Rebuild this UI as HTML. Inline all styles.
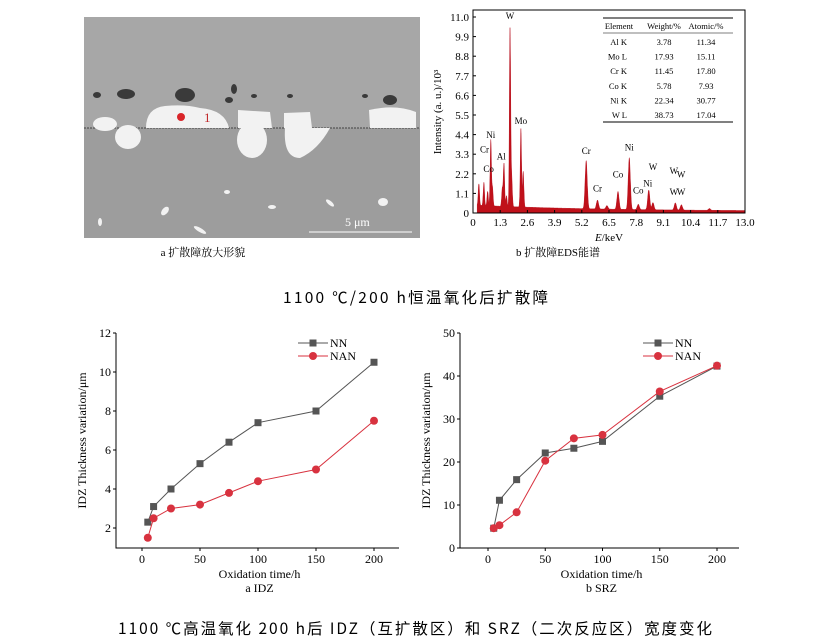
<!DOCTYPE html>
<html><head><meta charset="utf-8"><style>
body{margin:0;background:#fff;width:827px;height:643px;overflow:hidden;font-family:"Liberation Serif","Noto Serif CJK SC",serif}
svg{position:absolute;left:0;top:0}
</style></head><body>
<svg id="s" width="827" height="643" xmlns="http://www.w3.org/2000/svg">
<g>
<rect x="84" y="17" width="336" height="111" fill="#a7a7a7"/>
<rect x="84" y="128" width="336" height="110" fill="#9d9d9d"/>
<line x1="84" y1="128" x2="420" y2="128" stroke="#555" stroke-width="1.2" stroke-dasharray="2,1"/>
<g fill="#3a3a3a">
<ellipse cx="185" cy="95" rx="10" ry="7"/><ellipse cx="126" cy="94" rx="9" ry="5"/><ellipse cx="97" cy="95" rx="4" ry="3"/>
<ellipse cx="234" cy="89" rx="3" ry="5"/><ellipse cx="229" cy="100" rx="4" ry="3"/><ellipse cx="254" cy="96" rx="3" ry="2"/>
<ellipse cx="390" cy="100" rx="7" ry="5"/><ellipse cx="365" cy="96" rx="3" ry="2"/><ellipse cx="290" cy="96" rx="3" ry="2"/>
</g>
<g fill="#f2f2f2">
<path d="M146 128 Q146 108 165 106 Q185 104 200 108 Q225 110 229 128 Z"/>
<ellipse cx="105" cy="124" rx="12" ry="7"/>
<ellipse cx="128" cy="137" rx="13" ry="12"/>
<path d="M238 110 L270 112 L272 128 L238 128 Z"/>
<ellipse cx="252" cy="140" rx="15" ry="18"/>
<path d="M284 113 L310 112 L312 128 L284 128 Z"/>
<path d="M284 128 L330 128 Q318 150 300 158 Q283 158 285 128 Z"/>
<path d="M369 110 Q395 104 416 112 L416 128 L370 128 Z"/>
<ellipse cx="100" cy="222" rx="2" ry="4"/><ellipse cx="165" cy="211" rx="3" ry="5" transform="rotate(40 165 211)"/>
<ellipse cx="200" cy="230" rx="7" ry="2" transform="rotate(30 200 230)"/><ellipse cx="227" cy="192" rx="3" ry="2"/>
<ellipse cx="330" cy="203" rx="5" ry="2" transform="rotate(40 330 203)"/><ellipse cx="383" cy="202" rx="5" ry="4"/><ellipse cx="272" cy="207" rx="4" ry="2"/>
</g>
<circle cx="181" cy="117" r="4" fill="#d9252a"/>
<text x="204" y="122" font-size="13" fill="#c0282a">1</text>
<line x1="309" y1="232" x2="412" y2="232" stroke="#fff" stroke-width="1"/>
<text x="345" y="226" font-size="12" fill="#fff">5 μm</text>
</g>
<text x="203" y="256" font-size="11" text-anchor="middle">a  扩散障放大形貌</text>
<text x="558" y="256" font-size="11" text-anchor="middle">b  扩散障EDS能谱</text>
<text x="283" y="303" font-size="15.5" textLength="265" lengthAdjust="spacing" font-family="'Noto Sans CJK SC','Liberation Sans',sans-serif">1100 ℃/200 h恒温氧化后扩散障</text>
<text x="118" y="634" font-size="15.5" textLength="594" lengthAdjust="spacing" font-family="'Noto Sans CJK SC','Liberation Sans',sans-serif">1100 ℃高温氧化 200 h后 IDZ（互扩散区）和 SRZ（二次反应区）宽度变化</text>
<g id="eds"></g>
<g id="c1"></g>
<g id="c2"></g>
</svg>
<script>
const peakE=[0.28,0.52,0.7,0.85,0.93,1.4,1.48,1.6,1.77,1.85,2.29,2.4,5.41,5.95,6.4,6.93,7.47,7.9,8.4,8.6,9.67,9.96,11.3];
const peakH=[1.2,1.3,0.8,3.7,1.0,1.0,2.4,0.6,10.0,1.6,4.4,2.0,2.7,0.5,0.2,1.0,2.9,0.3,1.1,0.4,0.4,0.3,0.1];
const edsTicks=[0,1.3,2.6,3.9,5.2,6.5,7.8,9.1,10.4,11.7,13.0];
const edsYTicks=[0,1.1,2.2,3.3,4.4,5.5,6.6,7.7,8.8,9.9,11.0];
const tblRows=[["Al K","3.78","11.34"],["Mo L","17.93","15.11"],["Cr K","11.45","17.80"],["Co K","5.78","7.93"],["Ni K","22.34","30.77"],["W L","38.73","17.04"]];
const peakLabels=[["Ni",0.85,4.2],["Cr",0.55,3.4],["Co",0.75,2.3],["Al",1.35,3.0],["W",1.77,10.9],["Mo",2.29,5.0],["Cr",5.41,3.3],["Cr",5.95,1.2],["Co",6.93,2.0],["Ni",7.47,3.5],["Co",7.9,1.1],["Ni",8.35,1.5],["W",8.6,2.4],["W",9.6,2.2],["W",9.95,2.0],["W",9.6,1.0],["W",9.95,1.0]];
const NS="http://www.w3.org/2000/svg";
function mk(p,t,a,txt){const e=document.createElementNS(NS,t);for(const k in a)e.setAttribute(k,a[k]);if(txt!=null)e.textContent=txt;p.appendChild(e);return e;}
(function(){
const g=document.getElementById('eds');
const X=e=>473+e/13*272, Y=v=>213-v/11*196;
let d="M"+X(0.2)+" "+Y(0);
for(let e=0.2;e<=13;e+=0.01){let v=0.35*Math.exp(-e/6)+0.1;peakE.forEach((p,i)=>{const w=p<3?0.03:0.05;v+=peakH[i]*Math.exp(-((e-p)**2)/(2*w*w));});d+=" L"+X(e).toFixed(1)+" "+Y(v).toFixed(1);}
d+=" L"+X(13)+" "+Y(0)+" Z";
const sp=mk(g,'path',{d:d,fill:'#c0111a',stroke:'#b00010','stroke-width':0.4});


mk(g,'rect',{x:473,y:10,width:272,height:203,fill:'none',stroke:'#000','stroke-width':1});
edsTicks.forEach(t=>{mk(g,'line',{x1:X(t),y1:213,x2:X(t),y2:210,stroke:'#000'});const tx=mk(g,'text',{x:X(t),y:226,'font-size':11,'text-anchor':'middle'},t===0?"0":t.toFixed(1));});
edsYTicks.forEach(t=>{mk(g,'line',{x1:473,y1:Y(t),x2:476,y2:Y(t),stroke:'#000'});const tx=mk(g,'text',{x:469,y:Y(t)+4,'font-size':11,'text-anchor':'end'},t===0?"0":t.toFixed(1));});
const xt=mk(g,'text',{x:609,y:241,'font-size':11,'text-anchor':'middle'});xt.innerHTML='<tspan font-style="italic">E</tspan>/keV';

const yt=mk(g,'text',{x:0,y:0,'font-size':11,'text-anchor':'middle',transform:'translate(441,112) rotate(-90)'},'Intensity (a. u.)/10³');

peakLabels.forEach(l=>{const t=mk(g,'text',{x:X(l[1]),y:Y(l[2]),'font-size':9,'text-anchor':'middle'},l[0]);});
const tb=mk(g,'g',{});
mk(tb,'line',{x1:603,y1:18,x2:733,y2:18,stroke:'#000'});mk(tb,'line',{x1:603,y1:33,x2:733,y2:33,stroke:'#000','stroke-width':0.6});mk(tb,'line',{x1:603,y1:122,x2:733,y2:122,stroke:'#000'});
[["Element",619],["Weight/%",664],["Atomic/%",706]].forEach(h=>mk(tb,'text',{x:h[1],y:29,'font-size':8.5,'text-anchor':'middle'},h[0]));
tblRows.forEach((r,i)=>{const y=45+i*14.6;mk(tb,'text',{x:627,y:y,'font-size':8.5,'text-anchor':'end'},r[0]);mk(tb,'text',{x:664,y:y,'font-size':8.5,'text-anchor':'middle'},r[1]);mk(tb,'text',{x:706,y:y,'font-size':8.5,'text-anchor':'middle'},r[2]);});
})();
const times=[5,10,25,50,75,100,150,200];
const idzNN=[2.3,3.1,4.0,5.3,6.4,7.4,8.0,10.5];
const idzNAN=[1.5,2.5,3.0,3.2,3.8,4.4,5.0,7.5];
const srzNN=[4.6,11.1,15.9,22.1,23.2,24.8,35.3,42.3];
const srzNAN=[4.6,5.3,8.3,20.3,25.5,26.3,36.4,42.4];
const xTicks=[0,50,100,150,200];
const idzYTicks=[2,4,6,8,10,12];
const srzYTicks=[0,10,20,30,40,50];
function lineChart(id,box,x0px,x200px,ymin,ymax,ymaxpx,yTicks,nn,nan,cap){
const g=document.getElementById(id);
const X=t=>x0px+t/200*(x200px-x0px);
const Y=v=>box.b-(v-ymin)/(ymax-ymin)*(box.b-ymaxpx);
mk(g,'path',{d:`M${box.r} ${box.b} H${box.l} V${box.t}`,fill:'none',stroke:'#000','stroke-width':1});
xTicks.forEach(t=>{mk(g,'line',{x1:X(t),y1:box.b,x2:X(t),y2:box.b+3,stroke:'#000'});const tx=mk(g,'text',{x:X(t),y:box.b+15,'font-size':12,'text-anchor':'middle'},t);});
yTicks.forEach(t=>{mk(g,'line',{x1:box.l,y1:Y(t),x2:box.l-3,y2:Y(t),stroke:'#000'});const tx=mk(g,'text',{x:box.l-5,y:Y(t)+4,'font-size':12,'text-anchor':'end'},t);});
const xt=mk(g,'text',{x:(box.l+box.r)/2+2,y:box.b+30,'font-size':12,'text-anchor':'middle'},'Oxidation time/h');
const ct=mk(g,'text',{x:(box.l+box.r)/2+2,y:box.b+44,'font-size':12,'text-anchor':'middle'},cap);
const yt=mk(g,'text',{x:0,y:0,'font-size':12,'text-anchor':'middle',transform:`translate(${box.l-30},${(box.t+box.b)/2}) rotate(-90)`},'IDZ Thickness variation/μm');
[[nn,'#555','sq','NN'],[nan,'#d8323f','ci','NAN']].forEach((s,si)=>{
const pl=mk(g,'polyline',{points:times.map((t,i)=>X(t)+','+Y(s[0][i])).join(' '),fill:'none',stroke:s[1],'stroke-width':1});

times.forEach((t,i)=>{let m;if(s[2]==='sq')m=mk(g,'rect',{x:X(t)-3.5,y:Y(s[0][i])-3.5,width:7,height:7,fill:s[1]});else m=mk(g,'circle',{cx:X(t),cy:Y(s[0][i]),r:4,fill:s[1]});
});
const ly=box.t+10+si*13,lx=box.l+(id==='c1'?182:183);
mk(g,'line',{x1:lx,y1:ly,x2:lx+30,y2:ly,stroke:s[1]});
if(s[2]==='sq')mk(g,'rect',{x:lx+11.5,y:ly-3.5,width:7,height:7,fill:s[1]});else mk(g,'circle',{cx:lx+15,cy:ly,r:4,fill:s[1]});
const lt=mk(g,'text',{x:lx+32,y:ly+4,'font-size':12},s[3]);
});
}
lineChart('c1',{l:116,r:399,t:333,b:548},142,374,0.974,12,333,idzYTicks,idzNN,idzNAN,'a  IDZ');
lineChart('c2',{l:460,r:739,t:333,b:548},488,717,0,50,333,srzYTicks,srzNN,srzNAN,'b  SRZ');
</script>
</body></html>
